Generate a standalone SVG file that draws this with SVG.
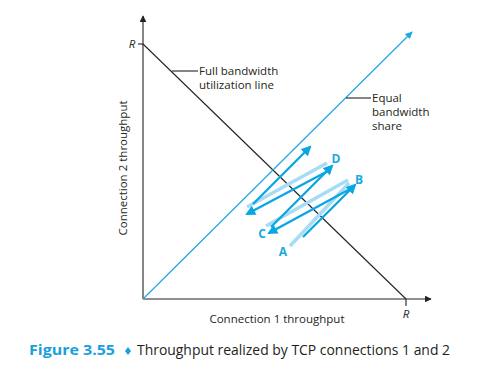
<svg xmlns="http://www.w3.org/2000/svg" width="486" height="367" viewBox="0 0 486 367">
<defs>
<style>
.ax{stroke:#222;stroke-width:1.1;fill:none}
.lbl{font-family:"Open Sans","Liberation Sans",sans-serif;font-size:11.5px;fill:#231f20}
.r{font-family:"Open Sans","Liberation Sans",sans-serif;font-size:11.5px;font-style:italic;fill:#231f20}
.pt{font-family:"Open Sans","Liberation Sans",sans-serif;font-size:12px;font-weight:bold;fill:#1aa9e1}
.light{stroke:#a6dcf4;stroke-width:3.5;fill:none;stroke-linecap:butt}
.dark{stroke:#0aa6e2;stroke-width:2.3;fill:none;marker-end:url(#ah)}
.eq{stroke:#1ea8e0;stroke-width:1.2;fill:none;marker-end:url(#ahs)}
</style>
<marker id="ah" viewBox="0 0 10 10" refX="8" refY="5" markerWidth="4.6" markerHeight="4.4" orient="auto" markerUnits="strokeWidth">
<path d="M0,0 L10,5 L0,10 z" fill="#0aa6e2"/>
</marker>
<marker id="ahs" viewBox="0 0 10 10" refX="9" refY="5" markerWidth="7" markerHeight="6" orient="auto" markerUnits="strokeWidth">
<path d="M0,0 L10,5 L0,10 z" fill="#1ea8e0"/>
</marker>
<marker id="ahk" viewBox="0 0 10 10" refX="9" refY="5" markerWidth="7" markerHeight="6" orient="auto" markerUnits="strokeWidth">
<path d="M0,0 L10,5 L0,10 z" fill="#222"/>
</marker>
</defs>
<rect width="486" height="367" fill="#fff"/>
<g id="axes">
<line class="ax" x1="143" y1="299" x2="143" y2="16" marker-end="url(#ahk)"/>
<line class="ax" x1="143" y1="299" x2="431" y2="299" marker-end="url(#ahk)"/>
<line class="ax" x1="138" y1="44" x2="143" y2="44"/>
<line class="ax" x1="406" y1="299" x2="406" y2="306"/>
<text class="r" x="132" y="48" text-anchor="middle">R</text>
<text class="r" x="406" y="318" text-anchor="middle">R</text>
<text class="lbl" x="277" y="323" text-anchor="middle" font-size="12">Connection 1 throughput</text>
<text class="lbl" transform="translate(127,168) rotate(-90)" text-anchor="middle" font-size="12">Connection 2 throughput</text>
</g>
<g id="full-utilization">
<line class="ax" x1="143" y1="44" x2="406" y2="299"/>
<line class="ax" x1="172" y1="71" x2="198" y2="71"/>
<text class="lbl" x="199" y="75">Full bandwidth</text>
<text class="lbl" x="199" y="89">utilization line</text>
</g>
<g id="equal-share">
<line class="eq" x1="143" y1="299" x2="412" y2="32"/>
<line class="ax" x1="346" y1="98" x2="371" y2="98"/>
<text class="lbl" x="372" y="102">Equal</text>
<text class="lbl" x="372" y="116">bandwidth</text>
<text class="lbl" x="372" y="130">share</text>
</g>
<g id="connectors">
<line class="light" x1="290" y1="246" x2="349" y2="183"/>
<line class="light" x1="348" y1="180" x2="266" y2="226"/>
<line class="light" x1="327" y1="163" x2="247" y2="207"/>
<line class="dark" x1="303" y1="237" x2="355" y2="185"/>
<line class="dark" x1="350" y1="189" x2="269" y2="233"/>
<line class="dark" x1="271" y1="227" x2="332" y2="166"/>
<line class="dark" x1="328" y1="171" x2="247" y2="214"/>
<line class="dark" x1="253" y1="204" x2="310" y2="147"/>
</g>
<g id="point-A"><text class="pt" x="283" y="256" text-anchor="middle">A</text></g>
<g id="point-B"><text class="pt" x="359" y="184" text-anchor="middle">B</text></g>
<g id="point-C"><text class="pt" x="262" y="238" text-anchor="middle">C</text></g>
<g id="point-D"><text class="pt" x="336" y="163" text-anchor="middle">D</text></g>
<g id="caption">
<text x="29" y="355" font-family="'Open Sans','Liberation Sans',sans-serif" font-size="15" font-weight="bold" fill="#1a9fdc" textLength="86" lengthAdjust="spacingAndGlyphs">Figure 3.55</text>
<polygon points="128,347 131,351 128,355 125,351" fill="#1a9fdc"/>
<text x="137" y="355" font-family="'Open Sans','Liberation Sans',sans-serif" font-size="14" fill="#231f20" textLength="313" lengthAdjust="spacingAndGlyphs">Throughput realized by TCP connections 1 and 2</text>
</g>
</svg>
